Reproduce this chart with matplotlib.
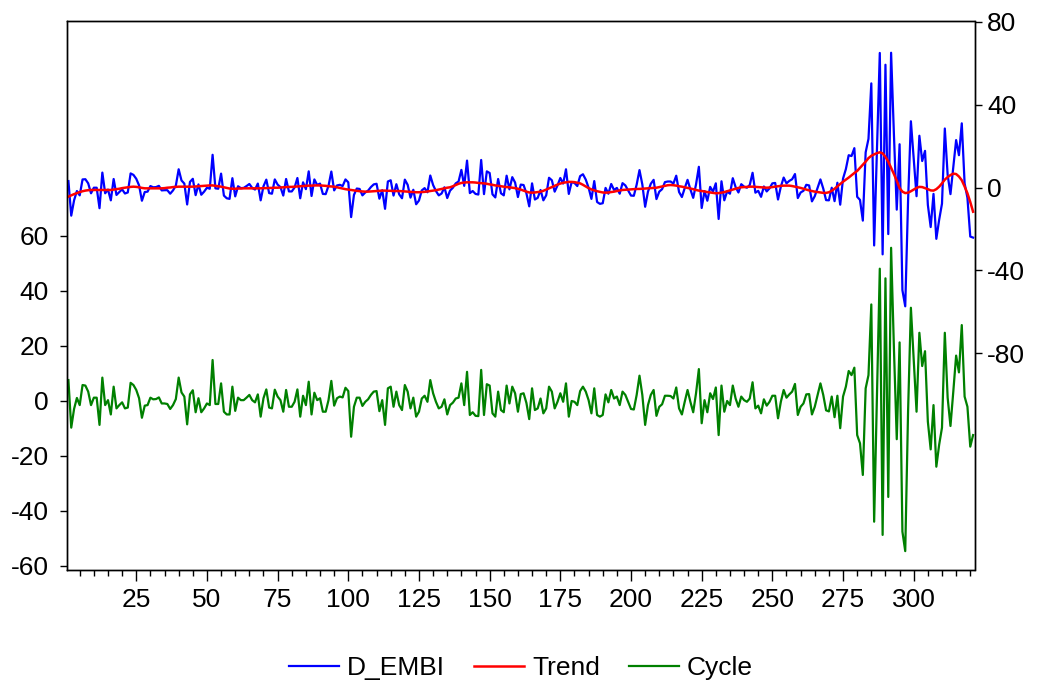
import matplotlib
matplotlib.use("Agg")
import matplotlib.pyplot as plt
from matplotlib.ticker import MultipleLocator, FixedLocator
import numpy as np

plt.rcParams['font.family'] = ['Liberation Sans', 'DejaVu Sans']
plt.rcParams['axes.unicode_minus'] = False

cycle = [
 7.5, -9.8, -3, 1, -1.6, 5.7, 5.5, 3.3, -1.6, 1.1,
 1.1, -8.8, 8.4, -1.6, 0.2, -5, 5.1, -2.8, -1.6, -0.6,
 -2.8, -2.5, 6.5, 5.7, 3.9, 0.9, -6.2, -1.8, -1.6, 1.1,
 0.5, 0.6, 1.2, -1, -1, -1.2, -3, -1.6, 0.6, 8.4,
 3, 1.5, -8.6, 2.3, 3.8, -4.2, 0.9, -4.2, -2.8, -1,
 -1.6, 14.8, -1.2, -1.2, 6.3, -4, -5, -5, 5.1, -3.7,
 1.1, 0.2, 0.2, 1.1, 2.1, 0.2, -0.6, 2.3, -5.8, 0.9,
 4.1, -2.5, -2.8, 4, 1.5, 0.2, -4, 3.9, -2.2, -2.2,
 -0.4, 4.1, -5.8, 1.8, -1.6, 6.9, -5, 2.9, 0.2, 0.9,
 -4, -4, 0.2, 7.2, -1.8, 0.9, 1.5, 1.2, 4.7, 3.5,
 -13.1, -2.2, 1.1, 1.1, -1.9, -0.4, 0.5, 2.1, 3.3, 3.5,
 -3.8, 0.2, -8.8, 4.5, 5.1, -2.2, 3.3, -1.6, -3.4, 5.7,
 3.3, -2.8, 1.1, -5.8, -4, 0.8, 1.8, -0.4, 7.5, 2.7,
 -0.4, -2.8, -2.2, 0.5, -5, -1.6, -0.7, 0.8, 1.1, 6.3,
 -1.6, 10.5, -5.2, -4.2, -5.5, -5.6, 11.2, -5.2, 6, 5.5,
 -4.6, -5.8, 3.3, -3.4, -4.2, 5.5, -1, 5.1, 2.7, -4,
 2.4, 2.7, -0.8, -6.7, 4.5, -3.4, -2.8, 0.8, -4.6, -2.8,
 5.1, 3.3, -2.8, -0.4, 2.7, -0.4, 6.3, -5.8, -0.1, -0.4,
 -1.6, 3.5, 5.1, 3.3, 0.2, -4.6, 4.5, -5.2, -5.8, -5.2,
 2.3, -0.6, 3.9, 0.8, 1.5, -1.6, 3.3, 2.1, -0.4, -3,
 -3.2, 2.1, 9.1, 2.1, -8.8, -1.6, 2.1, 3.9, -5.5, -2.2,
 -1.3, 1.8, 1.8, 1.7, 0.8, 4.8, -2.8, -5, -0.4, 3.9,
 -0.4, -4.2, 2.7, 11.5, -8.2, 0.2, -4.2, 2.7, 0.6, 4.8,
 -12.5, 5.5, -4, -0.1, -1.6, 5.5, 0.8, -2.2, 1.5, 0.2,
 -0.4, 0.8, 6.7, -2.8, -1.8, -4.6, 0.5, -1.8, -0.4, 1.8,
 1.8, -6.4, -0.4, 3.9, 1.1, 2.3, 3.3, 6.1, -5.2, -2.2,
 -1, 2.3, 2.4, -5, -2.2, 2.1, 6.3, 2.1, -3.5, -3.9,
 1.5, -6, 1.8, -10, 1.5, 5.1, 10.8, 9.3, 12, -12.5,
 -15.5, -27, 4.5, 9.3, 35, -44, 2, 48, -48.8, 44.5,
 -35, 55.6, 19, -14, 21.2, -47.6, -54.7, -4, 33.8, 14.8,
 -4, 24.7, 12.6, 18, -7.6, -17.7, -1.6, -24, -16, -9.8,
 24.7, 1.1, -9.2, 3.3, 16.4, 10.3, 27.5, 1.5, -2.2, -16.7,
 -12.5,
]

trend = [
 -4.4, -3.8, -3.2, -2.7, -2.2, -1.8, -1.5, -1.3, -1.2, -1.2,
 -1.2, -1.2, -1.2, -1.2, -1.2, -1.2, -1.0, -0.8, -0.6, -0.3,
 -0.1, 0.1, 0.3, 0.4, 0.3, 0.1, -0.2, -0.4, -0.4, -0.4,
 -0.4, -0.4, -0.4, -0.4, -0.3, -0.1, 0.0, 0.2, 0.3, 0.4,
 0.4, 0.4, 0.4, 0.4, 0.4, 0.5, 0.6, 0.7, 0.8, 0.9,
 1.0, 1.0, 0.8, 0.6, 0.4, 0.1, -0.2, -0.5, -0.6, -0.6,
 -0.5, -0.5, -0.4, -0.4, -0.4, -0.4, -0.4, -0.4, -0.4, -0.3,
 -0.3, -0.2, -0.2, -0.1, -0.1, 0.0, 0.1, 0.2, 0.3, 0.3,
 0.4, 0.5, 0.6, 0.7, 0.8, 0.9, 0.9, 1.0, 1.0, 1.0,
 0.9, 0.8, 0.6, 0.5, 0.4, 0.1, -0.2, -0.5, -0.8, -1.0,
 -1.2, -1.4, -1.6, -1.8, -1.9, -2.0, -2.0, -1.9, -1.8, -1.7,
 -1.6, -1.5, -1.5, -1.6, -1.6, -1.7, -1.7, -1.7, -1.8, -1.9,
 -2.0, -2.1, -2.2, -2.3, -2.3, -2.2, -2.1, -1.9, -1.7, -1.5,
 -1.3, -1.0, -0.7, -0.4, -0.1, 0.1, 0.6, 1.2, 1.8, 2.2,
 2.4, 2.5, 2.5, 2.5, 2.4, 2.2, 2.1, 2.0, 1.8, 1.5,
 1.3, 1.0, 0.8, 0.6, 0.4, 0.2, 0.1, -0.1, -0.3, -0.6,
 -1.0, -1.5, -2.0, -2.4, -2.5, -2.4, -2.2, -2.0, -1.6, -1.0,
 -0.4, 0.2, 0.8, 1.4, 1.9, 2.3, 2.5, 2.7, 2.7, 2.6,
 2.3, 2.0, 1.3, 0.5, -0.3, -0.9, -1.4, -1.8, -2.1, -2.4,
 -2.5, -2.4, -2.2, -2.0, -1.7, -1.4, -1.2, -1.1, -1.0, -0.9,
 -0.8, -0.7, -0.7, -0.6, -0.5, -0.4, -0.3, -0.2, -0.1, 0.2,
 0.5, 0.8, 1.1, 1.2, 1.1, 0.9, 0.6, 0.4, 0.1, -0.2,
 -0.5, -0.8, -1.2, -1.5, -1.7, -1.9, -2.2, -2.4, -2.6, -2.8,
 -2.7, -2.5, -2.2, -1.8, -1.4, -1.0, -0.6, -0.2, 0.1, 0.2,
 0.3, 0.4, 0.4, 0.3, 0.2, 0.1, 0.0, -0.1, 0.0, 0.2,
 0.4, 0.6, 0.8, 0.9, 0.9, 0.9, 0.7, 0.4, 0.1, -0.2,
 -0.6, -1.0, -1.4, -1.7, -2.0, -2.2, -2.4, -2.6, -2.6, -2.3,
 -1.6, -0.6, 0.5, 1.7, 2.8, 3.8, 4.8, 5.9, 7.0, 8.0,
 9.5, 11.0, 12.5, 14.2, 15.3, 16.0, 16.6, 17.0, 16.5, 14.8,
 12.5, 9.5, 6.5, 3.3, -0.3, -2.0, -2.7, -2.5, -1.8, -1.0,
 -0.2, 0.3, 0.2, -0.3, -0.8, -1.4, -1.5, -0.8, 0.4, 2.0,
 3.8, 5.0, 6.0, 6.7, 6.5, 5.3, 3.5, 0.5, -2.8, -7.0,
 -11.7,
]

d_embi = [
 3.1, -13.6, -6.2, -1.7, -3.8, 3.9, 4.0, 2.0, -2.8, -0.1,
 -0.1, -10.0, 7.2, -2.8, -1.0, -6.2, 4.1, -3.6, -2.2, -0.9,
 -2.9, -2.4, 6.8, 6.1, 4.2, 1.0, -6.4, -2.2, -2.0, 0.7,
 0.1, 0.2, 0.8, -1.4, -1.3, -1.3, -3.0, -1.4, 0.9, 8.8,
 3.4, 1.9, -8.2, 2.7, 4.2, -3.7, 1.5, -3.5, -2.0, -0.1,
 -0.6, 15.8, -0.4, -0.6, 6.7, -3.9, -5.2, -5.5, 4.5, -4.3,
 0.6, -0.3, -0.2, 0.7, 1.7, -0.2, -1.0, 1.9, -6.2, 0.6,
 3.8, -2.7, -3.0, 3.9, 1.4, 0.2, -3.9, 4.1, -1.9, -1.9,
 0.0, 4.6, -5.2, 2.5, -0.8, 7.8, -4.1, 3.9, 1.2, 1.9,
 -3.1, -3.2, 0.8, 7.7, -1.4, 1.0, 1.3, 0.7, 3.9, 2.5,
 -14.3, -3.6, -0.5, -0.7, -3.8, -2.4, -1.5, 0.2, 1.5, 1.8,
 -5.4, -1.3, -10.3, 2.9, 3.5, -3.9, 1.6, -3.3, -5.2, 3.8,
 1.3, -4.9, -1.1, -8.1, -6.3, -1.4, -0.3, -2.3, 5.8, 1.2,
 -1.7, -3.8, -2.9, 0.1, -5.1, -1.5, -0.1, 2.0, 2.9, 8.5,
 0.8, 13.0, -2.7, -1.7, -3.1, -3.4, 13.3, -3.2, 7.8, 7.0,
 -3.3, -4.8, 4.1, -2.8, -3.8, 5.7, -0.9, 5.0, 2.4, -4.6,
 1.4, 1.2, -2.8, -9.1, 2.0, -5.8, -5.0, -1.2, -6.2, -3.8,
 4.7, 3.5, -2.0, 1.0, 4.6, 1.9, 8.8, -3.1, 2.6, 2.2,
 0.7, 5.5, 6.4, 3.8, -0.1, -5.5, 3.1, -7.0, -7.9, -7.6,
 -0.2, -3.0, 1.7, -1.2, -0.2, -3.0, 2.1, 1.0, -1.4, -3.9,
 -4.0, 1.4, 8.4, 1.5, -9.3, -2.0, 1.8, 3.7, -5.6, -2.0,
 -0.8, 2.6, 2.9, 2.9, 1.9, 5.7, -2.2, -4.6, -0.3, 3.7,
 -0.9, -5.0, 1.5, 10.0, -9.9, -1.7, -6.4, 0.3, -2.0, 2.0,
 -15.2, 3.0, -6.2, -1.9, -3.0, 4.5, 0.2, -2.4, 1.6, 0.4,
 -0.1, 1.2, 7.1, -2.5, -1.6, -4.5, 0.5, -1.9, -0.4, 2.0,
 2.2, -5.8, 0.4, 4.8, 2.0, 3.2, 4.0, 6.5, -5.1, -2.4,
 -1.6, 1.3, 1.0, -6.7, -4.2, -0.1, 3.9, -0.5, -6.1, -6.2,
 -0.1, -6.6, 2.3, -8.3, 4.3, 8.9, 15.6, 15.2, 19.0, -4.5,
 -6.0, -16.0, 17.0, 23.5, 50.3, -28.0, 18.6, 65.0, -32.3, 59.3,
 -22.5, 65.1, 25.5, -10.7, 20.9, -49.6, -57.4, -6.5, 32.0, 13.8,
 -4.2, 25.0, 12.8, 17.7, -8.4, -19.1, -3.1, -24.8, -15.6, -7.8,
 28.5, 6.1, -3.2, 10.0, 22.9, 15.6, 31.0, 2.0, -5.0, -23.7,
 -24.2,
]

obs = np.arange(1, len(d_embi) + 1)

W, H = 1037, 685
fig = plt.figure(figsize=(W / 100, H / 100), dpi=100)
x0, x1 = 67, 974.5
y0, y1 = 21, 570
ax = fig.add_axes([x0 / W, 1 - y1 / H, (x1 - x0) / W, (y1 - y0) / H])
ax2 = ax.twinx()

FS = 19
ax.plot(obs, cycle, color='#008000', lw=1.6, label='Cycle')
l1, = ax2.plot(obs, d_embi, color='#0000ff', lw=1.6, label='D_EMBI')
l2, = ax2.plot(obs, trend, color='#ff0000', lw=1.8, label='Trend')
l3 = ax.get_lines()[0]

ax.set_xlim(0.5, len(d_embi) + 0.5)
# left axis: 0 at y=400.7 px, 2.75 px per unit
ax.set_ylim(-(y1 - 400.7) / 2.75, (400.7 - y0) / 2.75)
# right axis: 0 at y=187.5 px, 2.07 px per unit
ax2.set_ylim(-(y1 - 187.5) / 2.07, (187.5 - y0) / 2.07)

ax.xaxis.set_major_locator(FixedLocator([25, 50, 75, 100, 125, 150, 175, 200, 225, 250, 275, 300]))
ax.xaxis.set_minor_locator(MultipleLocator(5))
ax.yaxis.set_major_locator(FixedLocator([-60, -40, -20, 0, 20, 40, 60]))
ax2.yaxis.set_major_locator(FixedLocator([-80, -40, 0, 40, 80]))

for a in (ax, ax2):
    for s in a.spines.values():
        s.set_linewidth(1.0)
        s.set_color('black')

ax.tick_params(axis='x', which='major', direction='out', length=8, width=1, labelsize=FS, pad=5)
ax.tick_params(axis='x', which='minor', direction='out', length=4, width=1)
ax.tick_params(axis='y', which='major', direction='out', length=5, width=1, labelsize=FS, pad=8)
ax2.tick_params(axis='y', which='major', direction='out', length=5, width=1, labelsize=FS, pad=4)

fig.legend(handles=[l1, l2, l3], labels=['D_EMBI', 'Trend', 'Cycle'],
           loc='center', bbox_to_anchor=(521 / W, 1 - 668 / H), ncol=3,
           frameon=False, fontsize=FS, handlelength=1.9, handletextpad=0.3,
           columnspacing=1.1)

fig.savefig('out.png', dpi=100)
